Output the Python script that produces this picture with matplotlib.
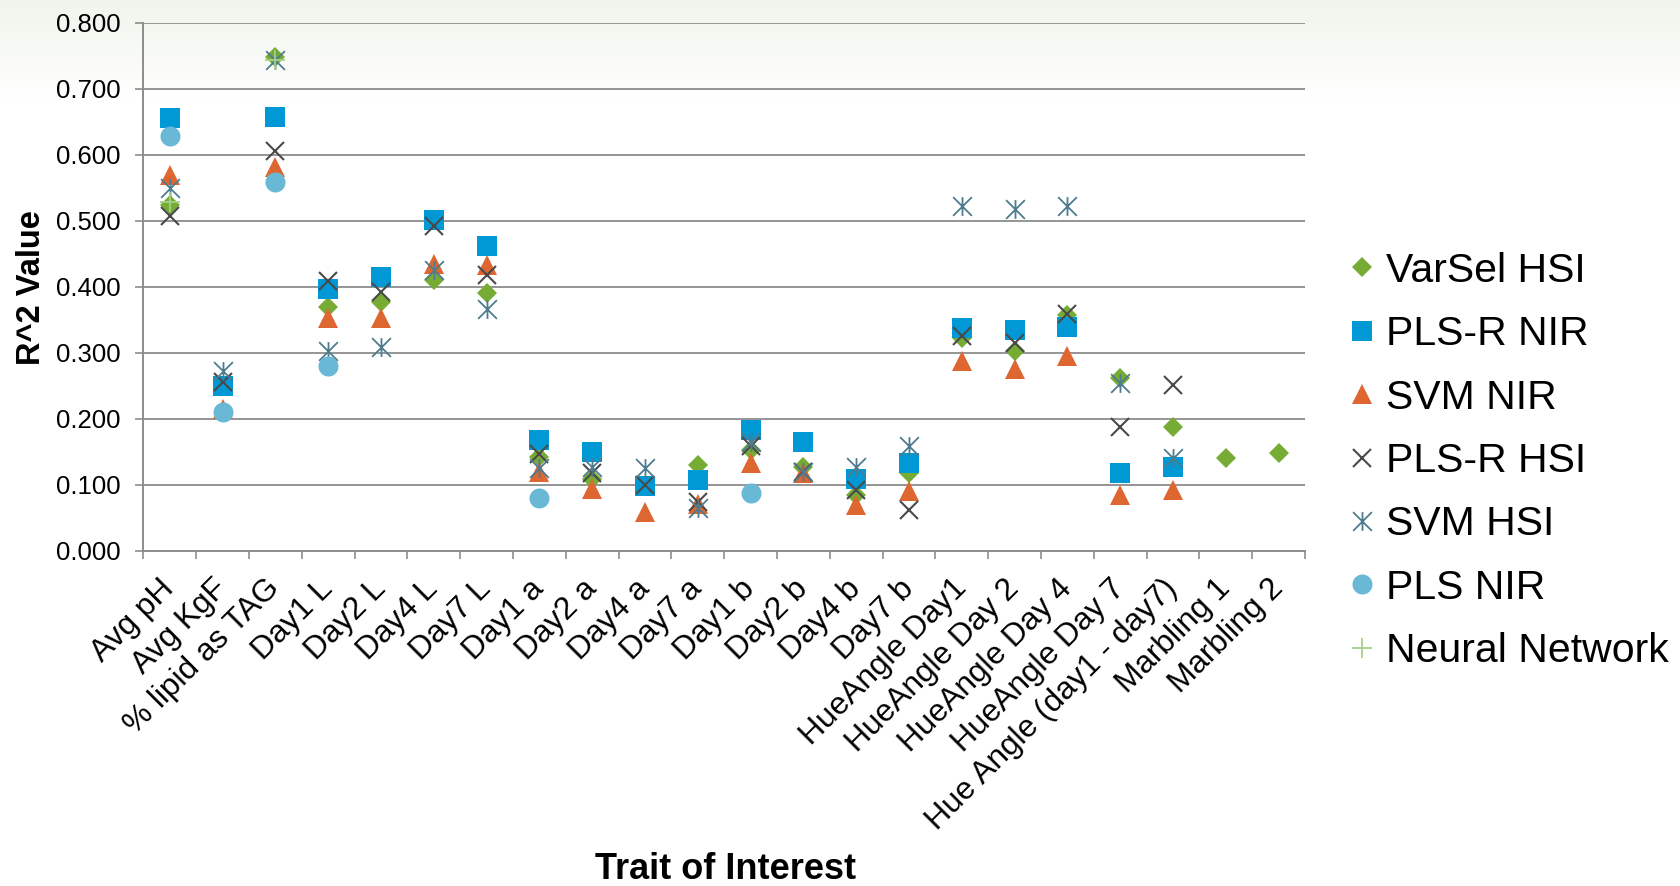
import numpy as np
import matplotlib
matplotlib.use("Agg")
import matplotlib.pyplot as plt
from matplotlib.path import Path

plt.rcParams["font.family"] = ["Liberation Sans", "DejaVu Sans"]

nan = np.nan

traits = ["Avg pH", "Avg KgF", "% lipid as TAG", "Day1 L", "Day2 L", "Day4 L",
          "Day7 L", "Day1 a", "Day2 a", "Day4 a", "Day7 a", "Day1 b", "Day2 b",
          "Day4 b", "Day7 b", "HueAngle Day1", "HueAngle Day 2", "HueAngle Day 4",
          "HueAngle Day 7", "Hue Angle (day1 - day7)", "Marbling 1", "Marbling 2"]

varsel_hsi = [0.524, nan, 0.748, 0.370, 0.377, 0.410, 0.391, 0.142, 0.108, nan,
              0.130, 0.153, 0.127, 0.084, 0.117, 0.323, 0.303, 0.357, 0.261,
              0.188, 0.141, 0.148]
plsr_nir = [0.655, 0.249, 0.657, 0.396, 0.414, 0.501, 0.462, 0.168, 0.149, 0.098,
            0.107, 0.183, 0.164, 0.108, 0.133, 0.338, 0.335, 0.339, 0.117,
            0.127, nan, nan]
svm_nir = [0.569, 0.214, 0.581, 0.352, 0.352, 0.435, 0.433, 0.120, 0.094, 0.059,
           0.071, 0.133, 0.117, 0.069, 0.091, 0.288, 0.276, 0.295, 0.085,
           0.092, nan, nan]
plsr_hsi = [0.507, 0.255, 0.606, 0.408, 0.392, 0.492, 0.418, 0.146, 0.117, 0.100,
            0.074, 0.158, 0.120, 0.092, 0.062, 0.325, 0.314, 0.359, 0.188,
            0.251, nan, nan]
svm_hsi = [0.549, 0.273, 0.743, 0.302, 0.308, 0.425, 0.366, 0.125, 0.127, 0.125,
           0.064, 0.165, 0.119, 0.127, 0.159, 0.522, 0.517, 0.522, 0.254,
           0.140, nan, nan]
pls_nir = [0.628, 0.210, 0.558, 0.280, nan, nan, nan, 0.080, nan, nan,
           nan, 0.087, nan, nan, nan, nan, nan, nan, nan,
           nan, nan, nan]
neural_network = [0.529, nan, 0.744, nan, nan, nan, nan, nan, nan, nan,
                  nan, nan, nan, nan, nan, nan, nan, nan, nan,
                  nan, nan, nan]

# Excel-style "star": an x with a vertical stroke through it
star = Path([(-1, -1), (1, 1), (-1, 1), (1, -1), (0, -1), (0, 1)],
            [Path.MOVETO, Path.LINETO, Path.MOVETO, Path.LINETO,
             Path.MOVETO, Path.LINETO])

series = [
    ("VarSel HSI", varsel_hsi, dict(marker="D", ms=10.2, mfc="#77AC34", mec="#77AC34", mew=0)),
    ("PLS-R NIR", plsr_nir, dict(marker="s", ms=14.2, mfc="#0099D6", mec="#0099D6", mew=0)),
    ("SVM NIR", svm_nir, dict(marker="^", ms=14.4, mfc="#DE6631", mec="#DE6631", mew=0)),
    ("PLS-R HSI", plsr_hsi, dict(marker="x", ms=13.5, mec="#4A4A4A", mew=1.5)),
    ("SVM HSI", svm_hsi, dict(marker=star, ms=13.5, mec="#4E7B8E", mew=1.3)),
    ("PLS NIR", pls_nir, dict(marker="o", ms=14.4, mfc="#68B8D6", mec="#68B8D6", mew=0)),
    ("Neural Network", neural_network, dict(marker="+", ms=14.0, mec="#A6D08A", mew=1.3)),
]

W, H = 1681, 886
fig = plt.figure(figsize=(W / 100, H / 100), dpi=100)

# soft tinted band along the top edge of the figure
bg = fig.add_axes([0, 0, 1, 1], zorder=-10)
rows = np.arange(H)
t = np.clip(1 - rows / 100.0, 0, 1)[:, None, None]
top = np.array([0.945, 0.960, 0.925])
grad = np.ones((H, 1, 3)) * (1 - t) + top * t
bg.imshow(grad, aspect="auto", extent=[0, 1, 0, 1], origin="upper")
bg.axis("off")

left, right = 143.3, 1305.0
bottom, topy = 550.7, 22.7
ax = fig.add_axes([left / W, 1 - bottom / H, (right - left) / W, (bottom - topy) / H])
ax.set_facecolor("none")

x = np.arange(len(traits))
handles = []
for name, vals, style in series:
    h, = ax.plot(x, vals, linestyle="none", label=name, clip_on=False, **style)
    handles.append(h)

grid_c = "#8C8C8C"
ax.set_xlim(-0.5, len(traits) - 0.5)
ax.set_ylim(0, 0.8)
ax.set_yticks(np.arange(0, 0.81, 0.1))
ax.set_yticklabels([f"{v:.3f}" for v in np.arange(0, 0.81, 0.1)])
ax.yaxis.grid(True, color=grid_c, linewidth=1.3)
ax.set_axisbelow(True)

ax.set_xticks(np.arange(-0.5, len(traits), 1.0))
ax.set_xticklabels([])
ax.set_xticks(x, minor=True)
ax.set_xticklabels(traits, minor=True, rotation=45, ha="right", va="center",
                   rotation_mode="anchor", fontsize=22.8)
ax.tick_params(axis="x", which="major", length=5.5, width=1.2, color=grid_c, direction="out")
ax.tick_params(axis="x", which="minor", length=0, pad=24)
ax.tick_params(axis="y", length=5.5, width=1.2, color=grid_c, direction="out",
               labelsize=18.5, pad=11)

for s in ("top", "right"):
    ax.spines[s].set_visible(False)
for s in ("left", "bottom"):
    ax.spines[s].set_color(grid_c)
    ax.spines[s].set_linewidth(1.4)

fig.text(40 / W, 1 - 287.7 / H, "R^2 Value", rotation=90, rotation_mode="anchor",
         ha="center", va="baseline", fontsize=23.5, fontweight="bold")
fig.text(726 / W, 1 - 879 / H, "Trait of Interest", ha="center", va="baseline",
         fontsize=26, fontweight="bold")

fig.legend(handles=handles, loc="center left", bbox_to_anchor=(1350 / W, 1 - 461 / H),
           frameon=False, fontsize=29.5, handlelength=0.6, handletextpad=0.28,
           labelspacing=0.62, borderpad=0, borderaxespad=0, numpoints=1)

fig.savefig("out.png", dpi=100)
